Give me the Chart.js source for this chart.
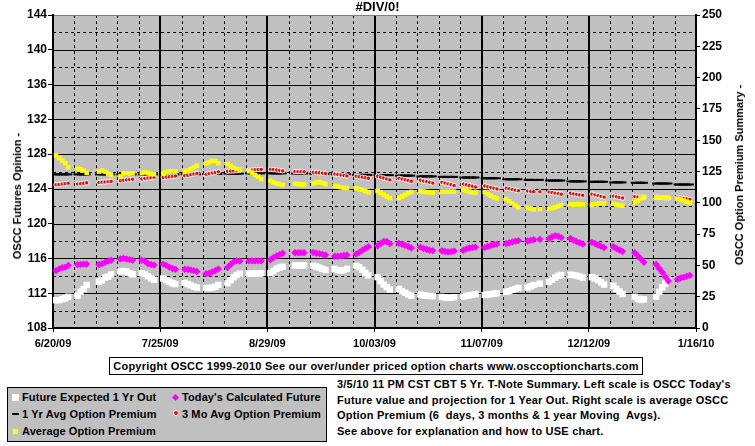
<!DOCTYPE html>
<html>
<head>
<meta charset="utf-8">
<script src="https://cdn.jsdelivr.net/npm/chart.js@4.4.0/dist/chart.umd.min.js"></script>
<style>
  body { margin: 0; background: #fff; width: 755px; height: 446px; overflow: hidden; position: relative;
         font-family: Arial, "Liberation Sans", sans-serif; font-weight: bold; color: #000; }
  #wrap { position: absolute; left: 0; top: 0; width: 755px; height: 356px; }
  .ytitle { position: absolute; font-size: 11px; white-space: nowrap; transform: translate(-50%, -50%) rotate(-90deg); }
  #copy { position: absolute; left: 109px; top: 357px; width: 534px; height: 18px; box-sizing: border-box;
          border: 1px solid #000; font-size: 11px; line-height: 16px; text-align: center; white-space: nowrap;
          letter-spacing: 0.25px; }
  #legend { position: absolute; left: 7px; top: 387px; width: 320px; height: 55px; box-sizing: border-box;
            border: 1px solid #000; background: #c0c0c0; font-size: 11px; letter-spacing: 0.1px; }
  .item { position: absolute; white-space: nowrap; line-height: 14px; height: 14px; }
  .mk { position: absolute; }
  .note { position: absolute; left: 337px; font-size: 11px; line-height: 16px; height: 16px; white-space: pre;
          letter-spacing: 0.22px; }
</style>
</head>
<body>
<div id="wrap"><canvas id="chart" width="755" height="356"></canvas></div>
<div class="ytitle" style="left:17px; top:196px;">OSCC Futures Opinion -</div>
<div class="ytitle" style="left:739px; top:175px;">OSCC Option Premium Summary -</div>
<div id="copy">Copyright OSCC 1999-2010 See our over/under priced option charts www.osccoptioncharts.com</div>
<div id="legend">
  <div class="mk" style="left:4px; top:6px; width:7px; height:7px; background:#fff;"></div>
  <div class="item" style="left:14px; top:2px;">Future Expected 1 Yr Out</div>
  <div class="mk" style="left:165px; top:7px; width:5px; height:5px; background:#f0f; transform:rotate(45deg);"></div>
  <div class="item" style="left:174px; top:2px;">Today's Calculated Future</div>
  <div class="mk" style="left:4px; top:25px; width:7px; height:2px; background:#000;"></div>
  <div class="item" style="left:14px; top:19px;">1 Yr Avg Option Premium</div>
  <div class="mk" style="left:165px; top:22px; width:4px; height:4px; border-radius:50%; background:#f00; border:1px solid #fff;"></div>
  <div class="item" style="left:174px; top:19px;">3 Mo Avg Option Premium</div>
  <div class="mk" style="left:5px; top:41px; width:5px; height:5px; background:#ff0;"></div>
  <div class="item" style="left:14px; top:36px;">Average Option Premium</div>
</div>
<div class="note" style="top:376px;">3/5/10 11 PM CST CBT 5 Yr. T-Note Summary. Left scale is OSCC Today's</div>
<div class="note" style="top:392px;">Future value and projection for 1 Year Out. Right scale is average OSCC</div>
<div class="note" style="top:407px;">Option Premium (6  days, 3 months &amp; 1 year Moving  Avgs).</div>
<div class="note" style="top:423px;">See above for explanation and how to USE chart.</div>
<script>
// x = days after 6/20/09, one row per week
const tradeDays = [
  1, 2, 3, 4, 5,
  8, 9, 10, 11,
  15, 16, 17, 18, 19,
  22, 23, 24, 25, 26,
  29, 30, 31, 32, 33,
  36, 37, 38, 39, 40,
  43, 44, 45, 46, 47,
  50, 51, 52, 53, 54,
  57, 58, 59, 60, 61,
  64, 65, 66, 67, 68,
  71, 72, 73, 74, 75,
  79, 80, 81, 82,
  85, 86, 87, 88, 89,
  92, 93, 94, 95, 96,
  99, 100, 101, 102, 103,
  106, 107, 108, 109, 110,
  113, 114, 115, 116, 117,
  120, 121, 122, 123, 124,
  127, 128, 129, 130, 131,
  134, 135, 136, 137, 138,
  141, 142, 143, 144, 145,
  148, 149, 150, 151, 152,
  155, 156, 157, 159,
  162, 163, 164, 165, 166,
  169, 170, 171, 172, 173,
  176, 177, 178, 179, 180,
  183, 184, 185, 186,
  190, 191, 192, 193,
  197, 198, 199, 200, 201,
  204, 205, 206, 207, 208
];

const xTickDays = [0, 35, 70, 105, 140, 175, 210];
const xTickLabels = ["6/20/09", "7/25/09", "8/29/09", "10/03/09", "11/07/09", "12/12/09", "1/16/10"];

// left scale
const futureExpected = [
  111.2, 111.2, 111.33, 111.41, 111.6,
  111.72, 112.18, 112.5, 112.95,
  113.33, 113.5, 113.8, 113.9, 114.17,
  114.5, 114.55, 114.5, 114.3, 114.17,
  114.3, 114.2, 113.95, 113.7, 113.55,
  113.7, 113.5, 113.3, 113.15, 113.05,
  113.2, 113.05, 112.9, 112.75, 112.65,
  112.6, 112.6, 112.65, 112.75, 112.95,
  113.15, 113.5, 113.85, 114.1, 114.25,
  114.25, 114.25, 114.25, 114.25, 114.3,
  114.3, 114.55, 114.8, 114.95, 115.05,
  115.2, 115.2, 115.2, 115.2,
  115.17, 115.06, 114.94, 114.79, 114.67,
  114.8, 114.65, 114.6, 114.65, 114.8,
  115.15, 115.0, 114.7, 114.35, 114.05,
  113.85, 113.4, 113.0, 112.7, 112.4,
  112.5, 112.25, 112.05, 111.85, 111.72,
  111.85, 111.75, 111.7, 111.68, 111.65,
  111.58, 111.5, 111.45, 111.5, 111.55,
  111.62, 111.7, 111.75, 111.82, 111.9,
  111.8, 111.85, 111.9, 111.95, 112.0,
  112.15, 112.25, 112.38, 112.5, 112.62,
  112.65, 112.8, 112.95, 113.1,
  113.3, 113.55, 113.8, 114.0, 114.1,
  114.12, 114.1, 114.02, 113.92, 113.8,
  113.85, 113.7, 113.5, 113.25, 113.0,
  112.85, 112.5, 112.2, 111.9,
  111.6, 111.35, 111.22, 111.3,
  111.6, 112.15, 112.7, 113.1, 113.5,
  null, null, null, null, null
];

const todaysFuture = [
  114.6, 114.8, 114.94, 115.0, 115.2,
  115.3, 115.3, 115.35, 115.35,
  115.3, 115.4, 115.55, 115.7, 115.8,
  115.94, 116.0, 115.94, 115.86, 115.8,
  115.8, 115.7, 115.4, 115.3, 115.25,
  115.35, 115.2, 115.0, 114.85, 114.75,
  114.75, 114.72, 114.68, 114.6, 114.5,
  114.25, 114.3, 114.45, 114.6, 114.8,
  114.95, 115.3, 115.6, 115.75, 115.7,
  115.72, 115.72, 115.72, 115.72, 115.72,
  115.85, 116.1, 116.3, 116.45, 116.6,
  116.65, 116.65, 116.65, 116.65,
  116.68, 116.6, 116.55, 116.47, 116.4,
  116.25, 116.25, 116.3, 116.35, 116.4,
  116.5, 116.7, 116.95, 117.15, 117.35,
  117.45, 117.7, 117.95, 117.95, 117.7,
  117.75, 117.62, 117.5, 117.38, 117.2,
  117.3, 117.15, 117.05, 116.95, 116.9,
  116.88, 116.8, 116.75, 116.78, 116.85,
  116.95, 117.1, 117.2, 117.25, 117.3,
  117.25, 117.38, 117.5, 117.6, 117.65,
  117.7, 117.8, 117.9, 117.98, 118.05,
  118.0, 118.1, 118.15, 118.2,
  118.3, 118.5, 118.62, 118.55, 118.4,
  118.3, 118.1, 117.95, 117.8, 117.65,
  117.85, 117.72, 117.55, 117.4, 117.25,
  117.35, 117.15, 116.97, 116.8,
  116.65, 116.3, 115.95, 115.55,
  115.3, 114.85, 114.4, 113.9, 113.4,
  113.6, 113.75, 113.85, 113.95, 114.05
];

// right scale
const yearAvgPremium = [
  122.7, 122.7, 122.7, 122.7, 122.7,
  122.7, 122.7, 122.7, 122.7,
  122.7, 122.7, 122.7, 122.7, 122.7,
  122.7, 122.7, 122.7, 122.7, 122.7,
  122.7, 122.7, 122.7, 122.7, 122.7,
  122.7, 122.7, 122.7, 122.7, 122.7,
  122.8, 122.8, 122.8, 122.8, 122.8,
  123.0, 123.0, 123.0, 123.0, 123.0,
  123.3, 123.3, 123.3, 123.3, 123.3,
  123.5, 123.5, 123.5, 123.5, 123.5,
  123.5, 123.5, 123.5, 123.5, 123.5,
  123.4, 123.4, 123.4, 123.4,
  123.1, 123.1, 123.1, 123.1, 123.1,
  122.8, 122.8, 122.8, 122.8, 122.8,
  122.3, 122.3, 122.3, 122.3, 122.3,
  122.1, 122.1, 122.1, 122.1, 122.1,
  121.7, 121.7, 121.7, 121.7, 121.7,
  121.1, 121.1, 121.1, 121.1, 121.1,
  120.7, 120.7, 120.7, 120.7, 120.7,
  120.2, 120.2, 120.2, 120.2, 120.2,
  119.6, 119.6, 119.6, 119.6, 119.6,
  118.8, 118.8, 118.8, 118.8, 118.8,
  118.3, 118.3, 118.3, 118.3,
  117.8, 117.8, 117.8, 117.8, 117.8,
  117.1, 117.1, 117.1, 117.1, 117.1,
  116.8, 116.8, 116.8, 116.8, 116.8,
  116.3, 116.3, 116.3, 116.3,
  116.0, 116.0, 116.0, 116.0,
  115.4, 115.4, 115.4, 115.4, 115.4,
  114.6, 114.6, 114.6, 114.6, 114.6
];

const moAvgPremium = [
  114.4, 114.6, 115.0, 115.3, 115.6,
  115.0, 115.3, 115.6, 116.0,
  116.2, 116.5, 116.7, 116.9, 117.1,
  117.6, 118.0, 118.3, 118.6, 118.8,
  119.0, 119.4, 119.8, 120.1, 120.4,
  120.2, 120.5, 120.8, 121.1, 121.4,
  121.6, 122.0, 122.5, 123.0, 123.5,
  122.8, 123.3, 123.8, 124.3, 124.8,
  125.2, 125.3, 125.4, 125.6, 125.7,
  126.0, 126.2, 126.4, 126.6, 126.7,
  126.8, 126.6, 126.2, 125.8, 125.5,
  125.0, 124.9, 124.9, 124.8,
  124.4, 124.2, 124.0, 123.7, 123.4,
  123.0, 122.6, 122.2, 121.8, 121.4,
  121.2, 120.8, 120.4, 120.0, 119.6,
  121.2, 120.5, 119.8, 119.0, 118.3,
  119.6, 119.0, 118.4, 117.8, 117.2,
  118.0, 117.4, 116.9, 116.3, 115.7,
  116.4, 115.8, 115.1, 114.5, 113.8,
  115.0, 114.4, 113.8, 113.2, 112.6,
  113.4, 112.8, 112.2, 111.6, 111.0,
  111.7, 111.2, 110.6, 110.1, 109.6,
  109.4, 109.1, 108.9, 108.8,
  108.6, 108.2, 107.7, 107.3, 106.9,
  107.6, 107.1, 106.7, 106.3, 106.0,
  106.9, 106.3, 105.7, 105.1, 104.5,
  105.3, 104.8, 104.3, 103.8,
  104.9, 104.6, 104.4, 104.2,
  104.5, 104.3, 104.1, 103.9, 103.7,
  104.0, 103.7, 103.4, 103.1, 102.8
];

const avgPremium = [
  137.8, 135.8, 133.8, 131.8, 128.2,
  127.3, 126.8, 125.8, 124.0,
  124.9, 125.7, 124.9, 123.3, 122.2,
  121.1, 123.3, 123.5, 123.3, 123.5,
  123.8, 124.3, 123.8, 123.0, 122.8,
  123.8, 124.3, 124.9, 125.1, 125.1,
  124.9, 125.9, 127.0, 128.1, 129.7,
  131.5, 132.3, 133.4, 133.4, 131.5,
  131.0, 129.4, 128.1, 127.0, 126.5,
  125.2, 124.1, 122.2, 120.9, 118.9,
  117.6, 116.5, 115.5, 114.8, 114.3,
  115.3, 115.0, 114.7, 114.5,
  115.4, 116.3, 116.5, 115.8, 114.9,
  113.6, 113.0, 112.4, 112.0, 111.7,
  111.5, 111.0, 110.3, 109.4, 108.5,
  109.5, 108.0, 106.5, 105.0, 103.8,
  103.8, 105.0, 106.3, 107.5, 108.7,
  109.3, 109.0, 108.6, 108.4, 108.1,
  109.0, 109.0, 109.0, 109.0, 109.0,
  110.3, 109.7, 109.0, 108.5, 108.1,
  108.6, 107.0, 105.6, 104.4, 103.5,
  103.0, 101.3, 99.7, 98.1, 96.5,
  96.0, 95.2, 94.8, 95.0,
  95.2, 95.8, 96.5, 97.4, 98.2,
  98.6, 98.6, 98.6, 98.6, 98.6,
  98.2, 98.8, 99.3, 99.6, 99.7,
  99.2, 98.6, 98.0, 97.6,
  100.4, 102.0, 103.5, 104.7,
  104.5, 104.4, 104.3, 104.2, 104.0,
  103.3, 102.6, 101.8, 100.9, 100.0
];

const FONT = 'Arial, "Liberation Sans", sans-serif';

function points(values) {
    return tradeDays.map((d, i) => ({ x: d, y: values[i] }));
}

// grey plot area with solid / dashed grid, drawn under the axes
const plotArea = {
    id: "plotArea",
    beforeDraw(chart) {
        const { ctx, chartArea: a, scales } = chart;
        ctx.save();
        ctx.fillStyle = "#c0c0c0";
        ctx.fillRect(a.left, a.top, a.right - a.left, a.bottom - a.top);
        ctx.strokeStyle = "#000";
        ctx.lineWidth = 1;
        for (let v = 110; v < 144; v += 2) {
            const y = Math.round(scales.y.getPixelForValue(v)) + 0.5;
            ctx.setLineDash(v % 4 === 0 ? [] : [3, 3]);
            ctx.beginPath();
            ctx.moveTo(a.left, y);
            ctx.lineTo(a.right, y);
            ctx.stroke();
        }
        for (let d = 7; d < 210; d += 7) {
            const x = Math.round(scales.x.getPixelForValue(d));
            ctx.beginPath();
            if (d % 35 === 0) {
                ctx.setLineDash([]);
                ctx.lineWidth = 2;
                ctx.moveTo(x, a.top);
                ctx.lineTo(x, a.bottom);
            } else {
                ctx.setLineDash([3, 3]);
                ctx.lineWidth = 1;
                ctx.moveTo(x + 0.5, a.top);
                ctx.lineTo(x + 0.5, a.bottom);
            }
            ctx.stroke();
        }
        ctx.setLineDash([]);
        ctx.lineWidth = 1;
        ctx.strokeStyle = "#808080";
        ctx.beginPath();
        ctx.moveTo(a.left, Math.round(a.top) + 0.5);
        ctx.lineTo(a.right, Math.round(a.top) + 0.5);
        ctx.stroke();
        ctx.restore();
    },
};

new Chart(document.getElementById("chart"), {
    type: "scatter",
    data: {
        datasets: [
            {
                label: "Future Expected 1 Yr Out",
                data: points(futureExpected),
                yAxisID: "y",
                order: 5,
                pointStyle: "rect",
                pointRadius: 4.5,
                pointBackgroundColor: "#ffffff",
                pointBorderWidth: 0,
            },
            {
                label: "Today's Calculated Future",
                data: points(todaysFuture),
                yAxisID: "y",
                order: 4,
                pointStyle: "rectRot",
                pointRadius: 3.7,
                pointBackgroundColor: "#ff00ff",
                pointBorderWidth: 0,
            },
            {
                label: "1 Yr Avg Option Premium",
                data: points(yearAvgPremium),
                yAxisID: "y2",
                order: 3,
                pointStyle: "line",
                pointRadius: 4,
                pointBorderColor: "#000000",
                pointBorderWidth: 2,
            },
            {
                label: "3 Mo Avg Option Premium",
                data: points(moAvgPremium),
                yAxisID: "y2",
                order: 2,
                pointStyle: "circle",
                pointRadius: 2.2,
                pointBackgroundColor: "#ff0000",
                pointBorderColor: "#ffffff",
                pointBorderWidth: 1,
            },
            {
                label: "Average Option Premium",
                data: points(avgPremium),
                yAxisID: "y2",
                order: 1,
                pointStyle: "rect",
                pointRadius: 3.2,
                pointBackgroundColor: "#ffff00",
                pointBorderWidth: 0,
            },
        ],
    },
    options: {
        responsive: false,
        animation: false,
        events: [],
        layout: { padding: 0 },
        plugins: {
            legend: { display: false },
            tooltip: { enabled: false },
            title: {
                display: true,
                text: "#DIV/0!",
                color: "#000",
                font: { family: FONT, size: 13, weight: "bold", lineHeight: 1 },
                padding: { top: 1, bottom: 1 },
            },
        },
        scales: {
            x: {
                type: "linear",
                position: "bottom",
                min: 0,
                max: 210,
                afterBuildTicks: (s) => {
                    s.ticks = xTickDays.map((v) => ({ value: v }));
                },
                afterFit: (s) => {
                    s.height = 28;
                },
                ticks: {
                    autoSkip: false,
                    maxRotation: 0,
                    padding: 5,
                    color: "#000",
                    font: { family: FONT, size: 11, weight: "bold" },
                    callback: (v) => xTickLabels[xTickDays.indexOf(v)],
                },
                grid: { drawOnChartArea: false, tickLength: 4, color: "#000" },
                border: { color: "#000", width: 2 },
            },
            y: {
                position: "left",
                min: 108,
                max: 144,
                afterFit: (s) => {
                    s.width = 53;
                },
                ticks: {
                    stepSize: 4,
                    padding: 1,
                    color: "#000",
                    font: { family: FONT, size: 12, weight: "bold" },
                },
                grid: { drawOnChartArea: false, tickLength: 5, color: "#000" },
                border: { color: "#000", width: 2 },
            },
            y2: {
                position: "right",
                min: 0,
                max: 250,
                afterFit: (s) => {
                    s.width = 59;
                },
                ticks: {
                    stepSize: 25,
                    padding: 2,
                    color: "#000",
                    font: { family: FONT, size: 12, weight: "bold" },
                },
                grid: { drawOnChartArea: false, tickLength: 4, color: "#000" },
                border: { color: "#000", width: 2 },
            },
        },
    },
    plugins: [plotArea],
});
</script>
</body>
</html>
